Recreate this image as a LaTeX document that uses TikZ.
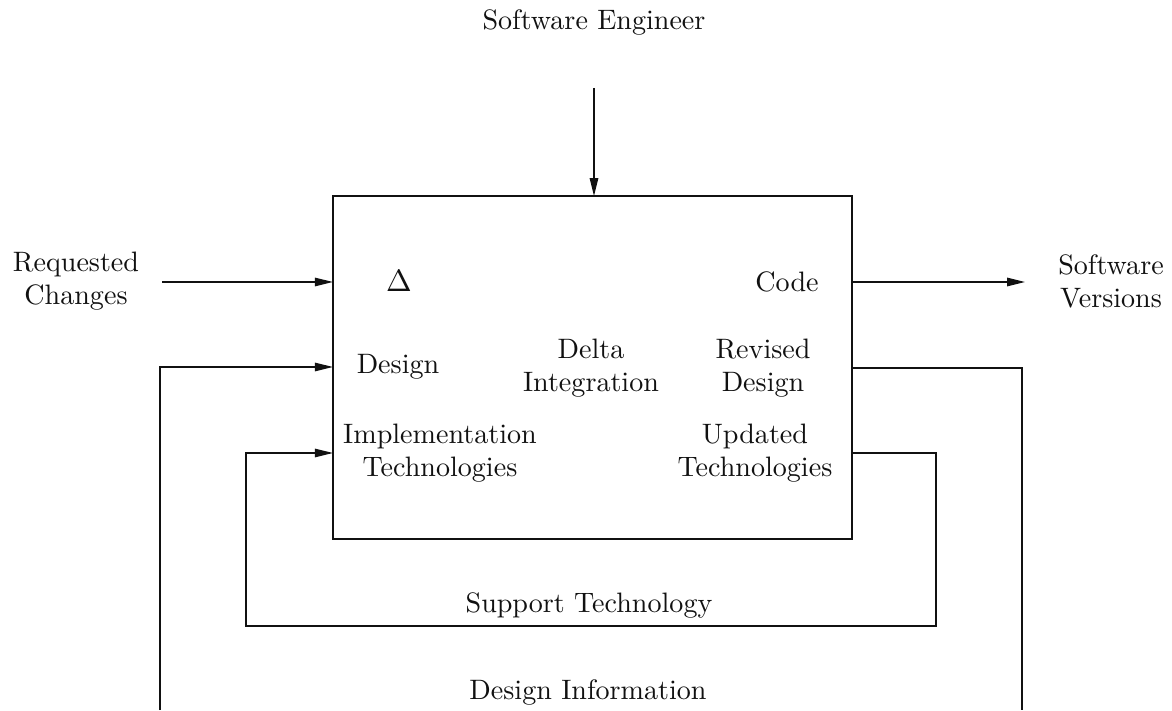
\documentclass[tikz,border=0pt]{standalone}
\usetikzlibrary{arrows.meta}
\definecolor{ink}{HTML}{111111}
\tikzset{
  label/.style={align=center, text=ink, inner sep=1pt, font=\fontsize{10}{11.8}\selectfont},
  procbox/.style={draw=ink, line width=0.7pt, inner sep=0pt, outer sep=0pt,
    minimum width=184.8pt, minimum height=122.1pt},
  arrow/.style={-{Triangle[length=6.4pt,width=3pt]}, draw=ink, line width=0.55pt},
  plain/.style={draw=ink, line width=0.55pt}
}

\begin{document}
\begin{tikzpicture}[x=0.356pt,y=0.356pt]
  \useasboundingbox (0,0) rectangle (1172,710);
  \fill[white] (0,0) rectangle (1172,710);

  % Main box.
  \node[procbox] (box) at (592.5,342.5) {};

  % Outside labels.
  \node[label] (eng) at (594,688) {Software Engineer};
  \node[label] (req) at (76,429) {Requested\\Changes};
  \node[label] (ver) at (1111,429) {Software\\Versions};
  \node[label] (support) at (589,105) {Support Technology};
  \node[label] (info) at (588,18) {Design Information};

  % Inside labels.
  \node[label, font=\fontsize{11}{12}\selectfont] (delta) at (399,429) {$\Delta$};
  \node[label] (code) at (787,428) {Code};
  \node[label] (design) at (398,343) {Design};
  \node[label] (integ) at (591,342) {Delta\\Integration};
  \node[label] (revised) at (763,342) {Revised\\Design};
  \node[label] (impl) at (440,257) {Implementation\\Technologies};
  \node[label] (updated) at (755,257) {Updated\\Technologies};

  % Free ends and corners.
  \coordinate (engin) at (594,622);
  \coordinate (reqin) at (162,428);
  \coordinate (verout) at (1025,428);
  \coordinate (dright) at (1022,0);
  \coordinate (dleft) at (160,0);
  \coordinate (sright) at (936,84);
  \coordinate (sleft) at (246,84);

  % Inputs and outputs.
  \draw[arrow] (engin) -- (engin |- box.north);
  \draw[arrow] (reqin) -- (reqin -| box.west);
  \draw[arrow] (box.east |- verout) -- (verout);

  % Feedback loops.
  \draw[plain] (box.east |- revised) -| (dright);
  \draw[arrow] (dleft) |- (box.west |- design);
  \draw[arrow] (box.east |- updated) -| (sright) -- (sleft) |- (box.west |- impl);

\end{tikzpicture}
\end{document}
